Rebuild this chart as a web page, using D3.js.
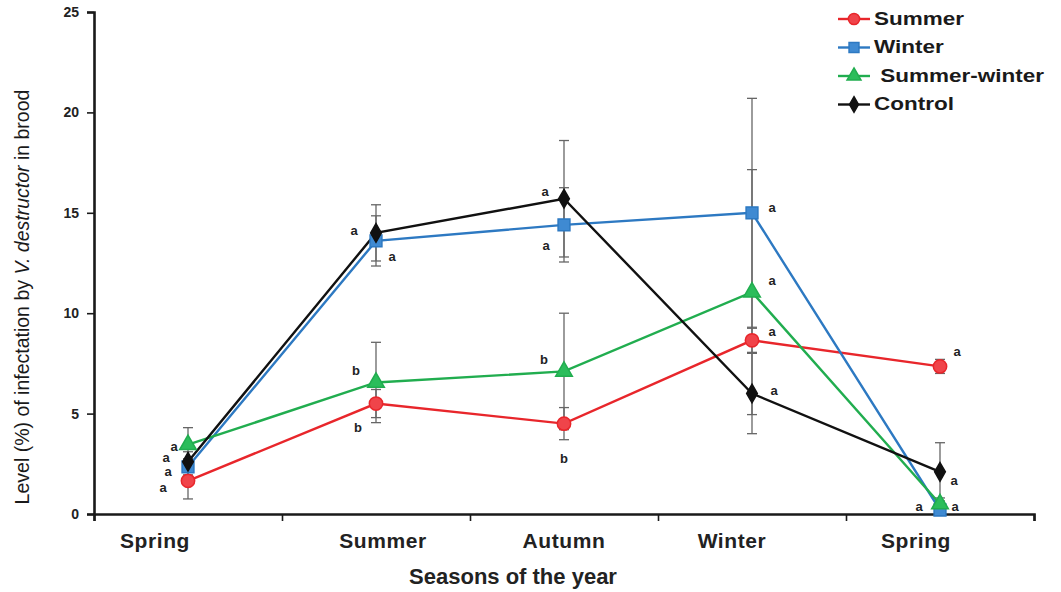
<!DOCTYPE html>
<html>
<head>
<meta charset="utf-8">
<script src="https://cdn.jsdelivr.net/npm/d3@7"></script>
<style>
  body { margin: 0; background: #fff; }
  svg { display: block; }
</style>
</head>
<body>
<div id="chart"></div>
<script>
// Data
const seasons = ["Spring", "Summer", "Autumn", "Winter", "Spring"];
const seriesNames = ["Summer", "Winter", " Summer-winter", "Control"];

const summerVals = [1.65, 5.5, 4.5, 8.65, 7.35];
const winterVals = [2.35, 13.6, 14.4, 15.0, 0.2];
const summerWinterVals = [3.45, 6.55, 7.1, 11.05, 0.5];
const controlVals = [2.6, 14.0, 15.7, 6.0, 2.1];

const summerErr = [0.9, 0.7, 0.8, 0.6, 0.35];
const winterErr = [0.4, 1.25, 1.85, 5.7, 0.2];
const summerWinterErr = [0.85, 2.0, 2.9, 6.1, 0.3];
const controlErr = [0.5, 1.4, 2.9, 2.0, 1.45];

const summerLetters = ["a", "b", "b", "a", "a"];
const winterLetters = ["a", "a", "a", "a", "a"];
const summerWinterLetters = ["a", "b", "b", "a", "a"];
const controlLetters = ["a", "a", "a", "a", "a"];

const yTicks = [0, 5, 10, 15, 20, 25];

// label placement (layout only)
const letterOffsets = [
  [[-25, 8], [-18, 25], [0, 36], [20, -8], [17, -14]],
  [[-20, 6], [16, 17], [-18, 22], [20, -4], [-21, -2]],
  [[-14, 3], [-20, -11], [-20, -11], [20, -11], [15, 4]],
  [[-22, -3], [-22, -1], [-19, -6], [22, -2], [14, 10]]
];
const xLabelShift = [-33, 7, 0, -20, -24];

const series = [
  { name: seriesNames[0], vals: summerVals, err: summerErr, letters: summerLetters, color: "#e8262b", fill: "#f0444a", symbol: d3.symbolCircle, size: 140 },
  { name: seriesNames[1], vals: winterVals, err: winterErr, letters: winterLetters, color: "#2d79c2", fill: "#3f8ad2", symbol: d3.symbolSquare, size: 140 },
  { name: seriesNames[2], vals: summerWinterVals, err: summerWinterErr, letters: summerWinterLetters, color: "#21ad4f", fill: "#2bbd5b", symbol: d3.symbolTriangle, size: 120 },
  { name: seriesNames[3], vals: controlVals, err: controlErr, letters: controlLetters, color: "#111111", fill: "#111111", symbol: d3.symbolDiamond, size: 100 }
];

const W = 1061, H = 592;
const svg = d3.select("#chart").append("svg")
  .attr("width", W).attr("height", H)
  .style("background", "#fff");

const x = d3.scaleBand().domain(d3.range(seasons.length)).range([94, 1034]);
const xEdge = d3.scaleLinear().domain([0, seasons.length]).range([94, 1034]);
const y = d3.scaleLinear().domain([0, 25]).range([514, 12]);
const cx = i => x(i) + x.bandwidth() / 2;

// Y axis
const yAxis = svg.append("g")
  .attr("transform", "translate(94,0)")
  .call(d3.axisLeft(y).tickValues(yTicks).tickSize(7).tickPadding(8));
yAxis.select(".domain").attr("stroke", "#1a1a1a").attr("stroke-width", 2.6);
yAxis.selectAll(".tick line").attr("stroke", "#1a1a1a").attr("stroke-width", 1.6);
yAxis.selectAll(".tick text")
  .attr("font-family", "Liberation Sans, Arial, sans-serif")
  .attr("font-weight", "bold").attr("font-size", 14).attr("fill", "#222");

// X axis
const xAxis = svg.append("g")
  .attr("transform", "translate(0,514)")
  .call(d3.axisBottom(xEdge).ticks(seasons.length).tickSize(7).tickFormat(""));
xAxis.select(".domain").attr("stroke", "#1a1a1a").attr("stroke-width", 2.6);
xAxis.selectAll(".tick line").attr("stroke", "#1a1a1a").attr("stroke-width", 1.6);

svg.append("g").selectAll("text")
  .data(seasons)
  .join("text")
  .attr("x", (d, i) => cx(i) + xLabelShift[i])
  .attr("y", 548)
  .attr("text-anchor", "middle")
  .attr("font-family", "Liberation Sans, Arial, sans-serif")
  .attr("font-weight", "bold")
  .attr("font-size", 21)
  .attr("letter-spacing", 0.6)
  .attr("fill", "#222")
  .text(d => d);

// Axis titles
svg.append("text")
  .attr("x", 513).attr("y", 584)
  .attr("text-anchor", "middle")
  .attr("font-family", "Liberation Sans, Arial, sans-serif")
  .attr("font-weight", "bold")
  .attr("font-size", 22)
  .attr("fill", "#222")
  .text("Seasons of the year");

const yTitle = svg.append("text")
  .attr("transform", "translate(29,297) rotate(-90)")
  .attr("text-anchor", "middle")
  .attr("font-family", "Liberation Sans, Arial, sans-serif")
  .attr("font-size", 19.5)
  .attr("fill", "#1a1a1a");
yTitle.append("tspan").text("Level (%) of infectation by ");
yTitle.append("tspan").attr("font-style", "italic").text("V. destructor");
yTitle.append("tspan").text(" in brood");

// Error bars
const errG = svg.append("g");
series.forEach(s => {
  s.vals.forEach((v, i) => {
    const lo = Math.max(0, v - s.err[i]), hi = v + s.err[i];
    errG.append("line")
      .attr("x1", cx(i)).attr("x2", cx(i))
      .attr("y1", y(lo)).attr("y2", y(hi))
      .attr("stroke", "#666").attr("stroke-width", 1.3);
    [lo, hi].forEach(e => {
      errG.append("line")
        .attr("x1", cx(i) - 5).attr("x2", cx(i) + 5)
        .attr("y1", y(e)).attr("y2", y(e))
        .attr("stroke", "#666").attr("stroke-width", 1.3);
    });
  });
});

// Lines
const line = d3.line().x((d, i) => cx(i)).y(d => y(d));
series.forEach(s => {
  svg.append("path")
    .datum(s.vals)
    .attr("d", line)
    .attr("fill", "none")
    .attr("stroke", s.color)
    .attr("stroke-width", 2.4);
});

// Markers
series.forEach(s => {
  svg.append("g").selectAll("path")
    .data(s.vals)
    .join("path")
    .attr("transform", (d, i) => `translate(${cx(i)},${y(d)})`)
    .attr("d", d3.symbol().type(s.symbol).size(s.size))
    .attr("fill", s.fill)
    .attr("stroke", s.color)
    .attr("stroke-width", 1.5);
});

// Significance letters
series.forEach((s, k) => {
  svg.append("g").selectAll("text")
    .data(s.letters)
    .join("text")
    .attr("x", (d, i) => cx(i) + letterOffsets[k][i][0])
    .attr("y", (d, i) => y(s.vals[i]) + letterOffsets[k][i][1])
    .attr("text-anchor", "middle")
    .attr("dominant-baseline", "middle")
    .attr("font-family", "Liberation Sans, Arial, sans-serif")
    .attr("font-weight", "bold")
    .attr("font-size", 13)
    .attr("fill", "#222")
    .text(d => d);
});

// Legend
const legend = svg.append("g").attr("transform", "translate(838,19)");
series.forEach((s, k) => {
  const g = legend.append("g").attr("transform", `translate(0,${k * 28.5})`);
  g.append("line")
    .attr("x1", 0).attr("x2", 32)
    .attr("stroke", s.color).attr("stroke-width", 2.4);
  g.append("path")
    .attr("transform", "translate(16,0)")
    .attr("d", d3.symbol().type(s.symbol).size(s.size * 0.7))
    .attr("fill", s.fill)
    .attr("stroke", s.color)
    .attr("stroke-width", 1.5);
  g.append("text")
    .attr("transform", "translate(36,1) scale(1.25,1)")
    .attr("dominant-baseline", "middle")
    .attr("font-family", "Liberation Sans, Arial, sans-serif")
    .attr("font-weight", "bold")
    .attr("font-size", 18)
    .attr("fill", "#1a1a1a")
    .attr("xml:space", "preserve")
    .style("white-space", "pre")
    .text(s.name);
});
</script>
</body>
</html>
